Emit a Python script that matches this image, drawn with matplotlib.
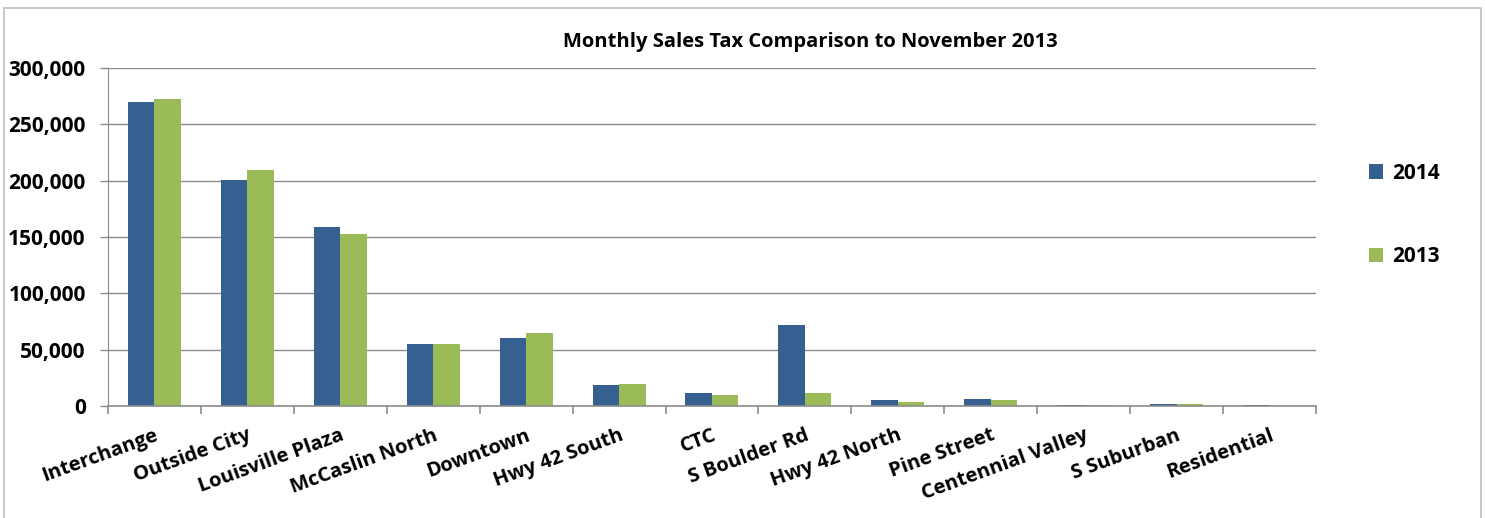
import matplotlib
matplotlib.use("Agg")
import matplotlib.pyplot as plt
import numpy as np
from matplotlib.patches import Rectangle
from matplotlib.ticker import FuncFormatter, FixedLocator

categories = ["Interchange", "Outside City", "Louisville Plaza", "McCaslin North",
              "Downtown", "Hwy 42 South", "CTC", "S Boulder Rd", "Hwy 42 North",
              "Pine Street", "Centennial Valley", "S Suburban", "Residential"]
sales_2014 = [270000, 200500, 159000, 55000, 60500, 18600, 11800, 71600,
              5500, 6300, 900, 1800, 800]
sales_2013 = [272500, 209500, 152600, 55000, 64800, 19200, 9500, 11200,
              4000, 5700, 600, 1800, 400]

BLUE = "#36608f"
GREEN = "#9bbb59"
GRID = "#8c8c8c"

plt.rcParams["font.family"] = ["Open Sans", "DejaVu Sans"]

fig = plt.figure(figsize=(14.85, 5.18), dpi=100)
ax = fig.add_axes([0.0727, 0.2162, 0.8135, 0.6525])

x = np.arange(len(categories))
w = 0.285
ax.bar(x - w / 2, sales_2014, w, color=BLUE, label="2014", linewidth=0)
ax.bar(x + w / 2, sales_2013, w, color=GREEN, label="2013", linewidth=0)

ax.set_xlim(-0.5, len(categories) - 0.5)
ax.set_ylim(0, 300000)
ax.set_yticks(np.arange(0, 300001, 50000))
ax.yaxis.set_major_formatter(FuncFormatter(lambda v, p: f"{int(v):,}"))
ax.grid(axis="y", color=GRID, lw=1.0)
ax.set_axisbelow(True)

# category labels at centres, tick marks at group boundaries
ax.set_xticks(x)
ax.set_xticklabels(categories, rotation=20, ha="right", rotation_mode="anchor",
                   fontsize=14.5, fontweight="bold")
ax.tick_params(axis="x", length=0, pad=14)
ax.xaxis.set_minor_locator(FixedLocator(np.arange(-0.5, len(categories), 1.0)))
ax.tick_params(axis="x", which="minor", length=6, color=GRID, width=1.2)
ax.tick_params(axis="y", length=6, color=GRID, width=1.0, labelsize=15, pad=10)
for lab in ax.get_yticklabels():
    lab.set_fontweight("bold")

for s in ("top", "right"):
    ax.spines[s].set_visible(False)
ax.spines["left"].set_color(GRID)
ax.spines["bottom"].set_color(GRID)
ax.spines["bottom"].set_linewidth(1.2)

fig.text(0.5455, 0.918, "Monthly Sales Tax Comparison to November 2013",
         ha="center", va="center", fontsize=14.5, fontweight="bold")

leg = fig.legend(loc="center left", bbox_to_anchor=(0.909, 0.585), frameon=False,
                 prop={"size": 15, "weight": "bold"}, labelspacing=3.0,
                 handlelength=0.7, handleheight=0.7, handletextpad=0.45)

fig.patches.append(Rectangle((0.003, -0.01), 0.994, 0.995, transform=fig.transFigure,
                             fill=False, edgecolor="#bfbfbf", lw=1.2))

fig.savefig("out.png", dpi=100)
